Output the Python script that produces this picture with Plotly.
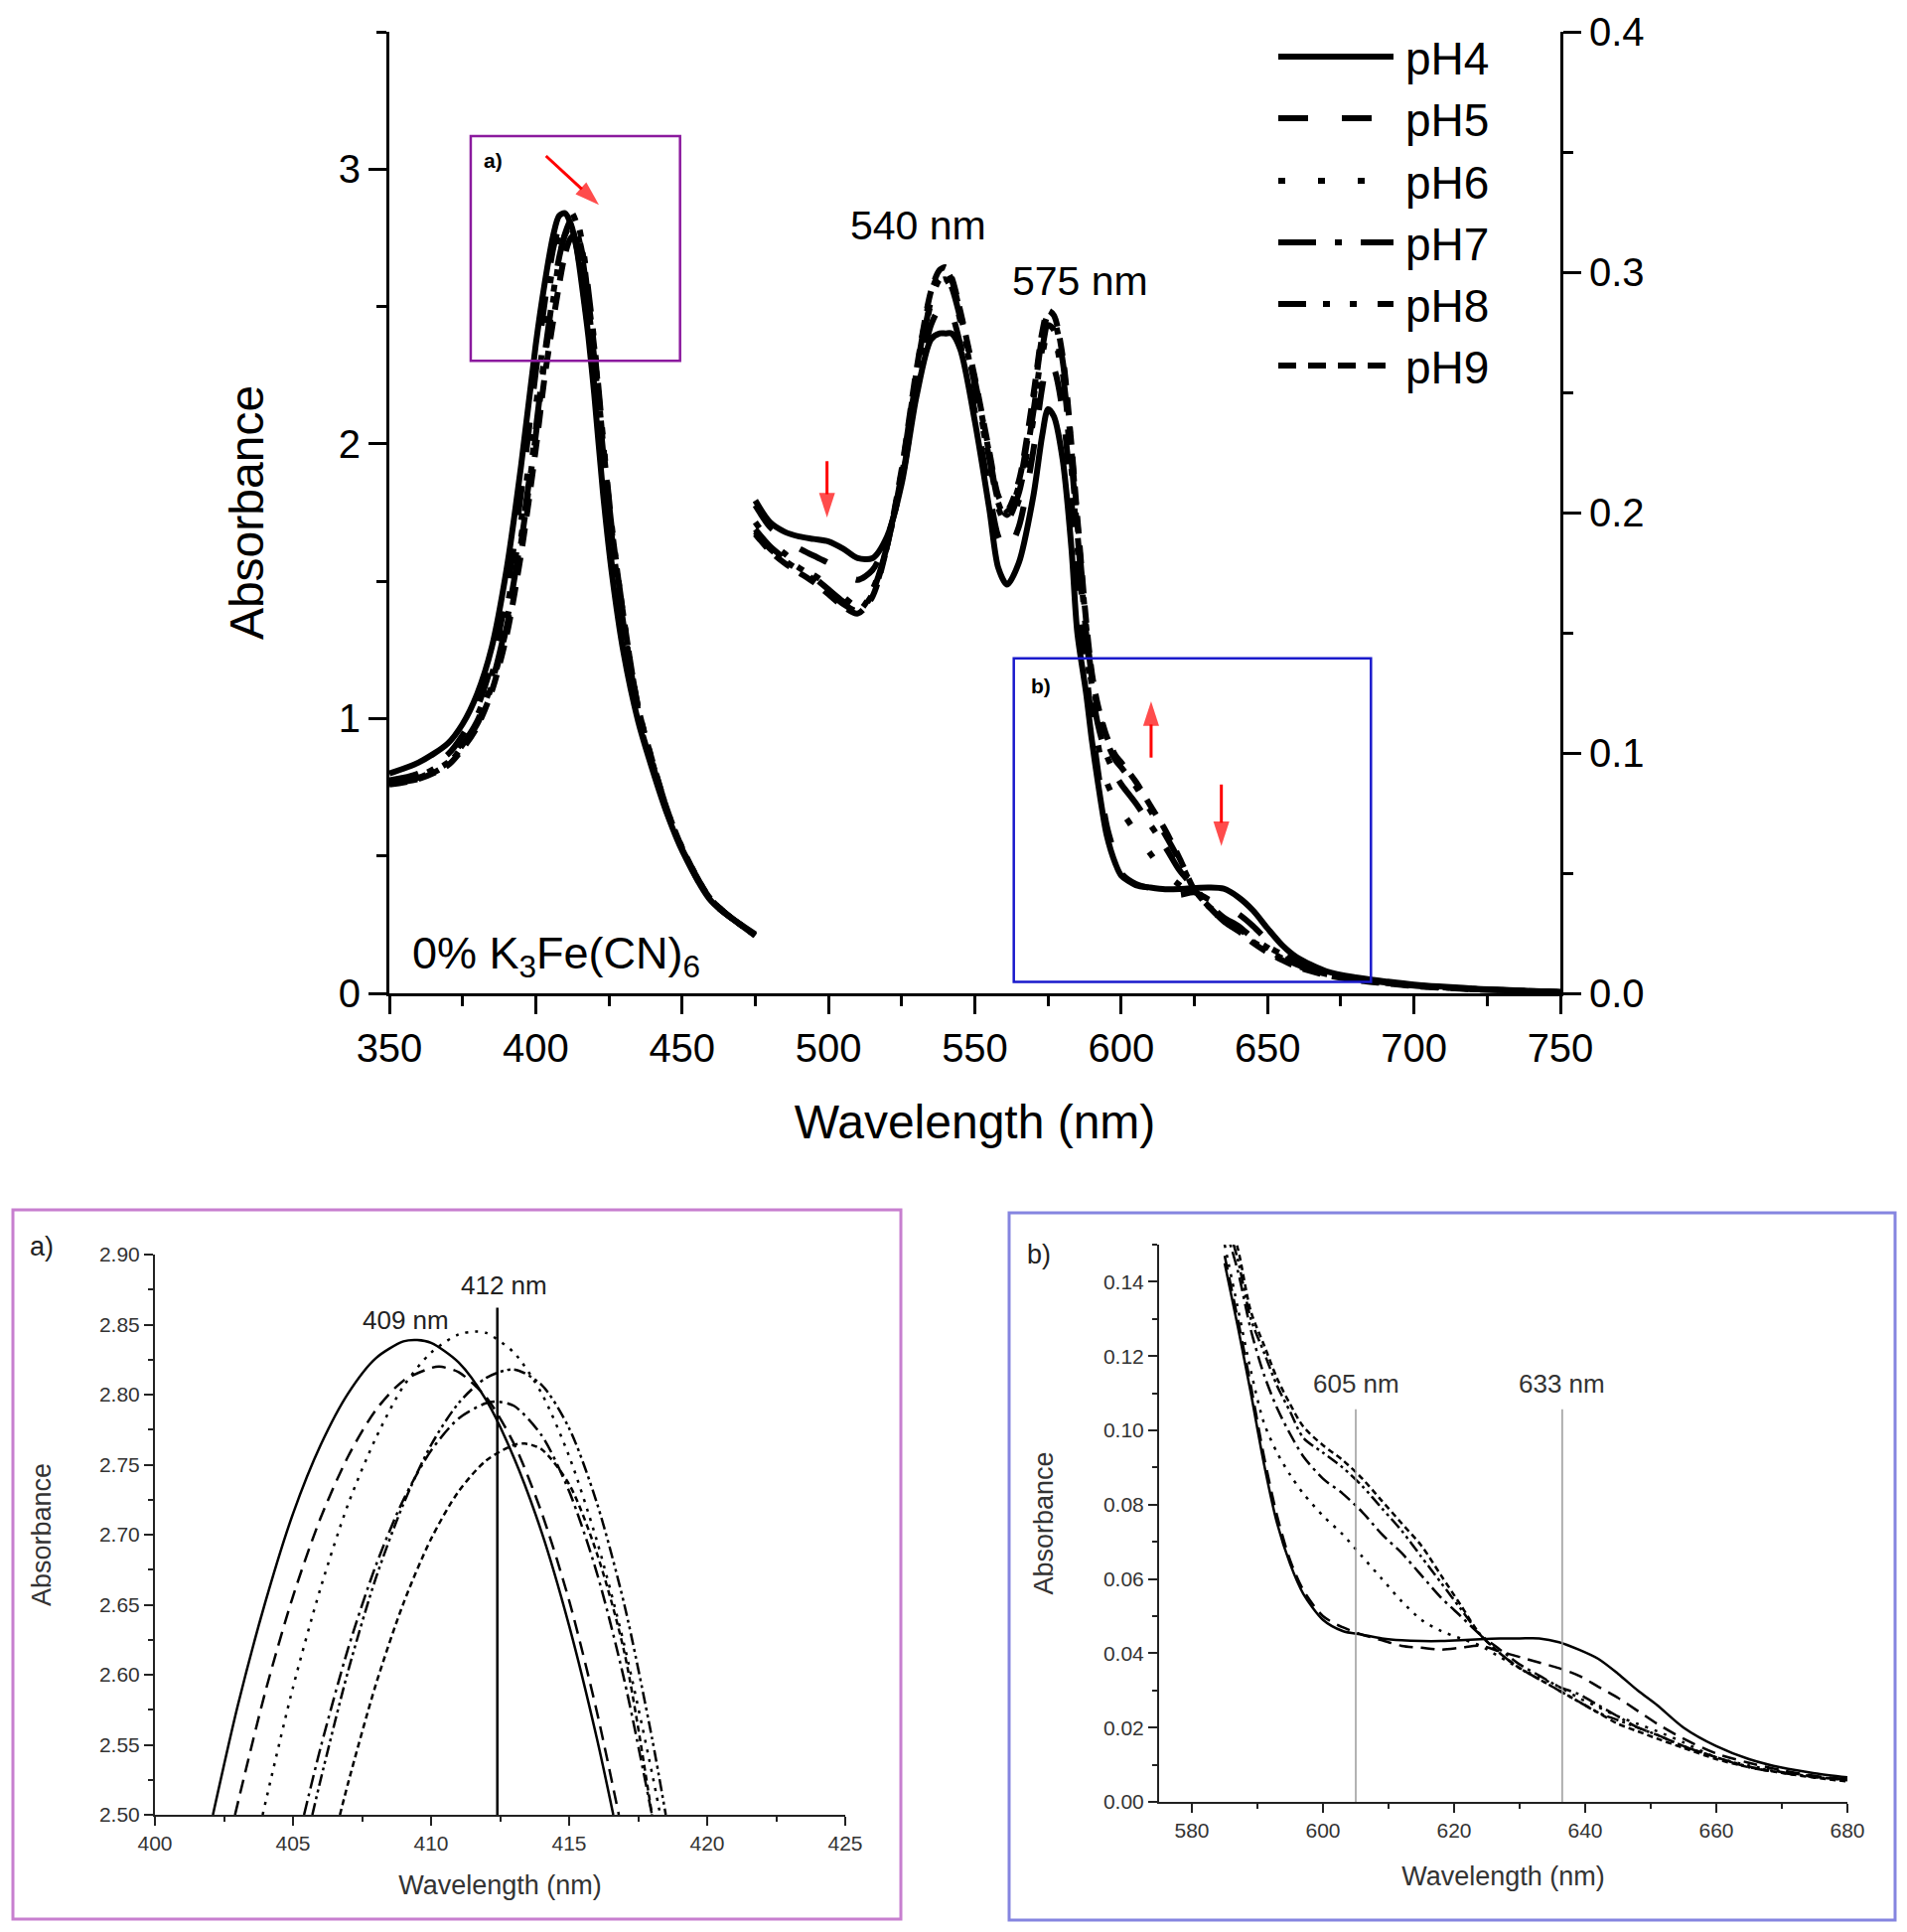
import plotly.graph_objects as go

W, H = 1920, 1945          # screenshot size
OX, OY = 8, 8              # default page (body) margin of the html page
FW, FH = W - 2 * OX, H - 2 * OY
FONT = "Liberation Sans, Arial, sans-serif"

ph_names = ["pH4", "pH5", "pH6", "pH7", "pH8", "pH9"]

# ---------------- main panel: Soret band (left axis) ----------------
soret_wl = [350, 360, 370, 375, 380, 385, 390, 395, 400, 403, 406, 408, 410, 412, 414,
            416, 418, 420, 423, 426, 430, 435, 440, 445, 450, 460, 475]
soret_pH4 = [0.80, 0.84, 0.91, 0.98, 1.09, 1.26, 1.54, 1.92, 2.36, 2.58, 2.76, 2.83, 2.84, 2.80, 2.71,
             2.56, 2.39, 2.18, 1.82, 1.53, 1.24, 0.99, 0.81, 0.65, 0.52, 0.335, 0.215]
soret_pH5 = [0.775, 0.80, 0.87, 0.94, 1.04, 1.20, 1.45, 1.82, 2.26, 2.51, 2.712, 2.789, 2.819, 2.798, 2.716,
             2.574, 2.41, 2.21, 1.86, 1.56, 1.27, 1.00, 0.82, 0.655, 0.525, 0.335, 0.215]
soret_pH6 = [0.77, 0.79, 0.85, 0.92, 1.01, 1.16, 1.39, 1.72, 2.13, 2.42, 2.662, 2.769, 2.830, 2.844, 2.801,
             2.696, 2.53, 2.34, 2.00, 1.68, 1.35, 1.035, 0.835, 0.66, 0.525, 0.34, 0.21]
soret_pH7 = [0.765, 0.785, 0.84, 0.905, 0.99, 1.13, 1.35, 1.66, 2.05, 2.32, 2.548, 2.678, 2.760, 2.794, 2.771,
             2.673, 2.50, 2.31, 1.97, 1.66, 1.34, 1.03, 0.83, 0.66, 0.525, 0.34, 0.21]
soret_pH8 = [0.765, 0.78, 0.835, 0.90, 0.98, 1.12, 1.33, 1.64, 2.03, 2.30, 2.525, 2.67, 2.764, 2.812, 2.807,
             2.723, 2.555, 2.37, 2.02, 1.70, 1.37, 1.04, 0.84, 0.665, 0.53, 0.34, 0.21]
soret_pH9 = [0.76, 0.78, 0.83, 0.89, 0.97, 1.10, 1.30, 1.60, 1.98, 2.24, 2.45, 2.58, 2.69, 2.75, 2.76,
             2.69, 2.52, 2.35, 2.00, 1.69, 1.37, 1.04, 0.84, 0.665, 0.53, 0.34, 0.21]

# ---------------- main panel: Q bands (right axis) ----------------
q_wl = [475, 480, 485, 490, 495, 500, 505, 510, 515, 520, 525, 530, 535, 538, 540, 542, 545, 550,
        555, 558, 561, 565, 570, 573, 575, 577, 580, 583, 585, 588, 590, 592, 595, 598, 600, 605,
        610, 615, 620, 625, 630, 635, 640, 645, 650, 655, 660, 670, 680, 690, 700, 720, 750]
q_pH4 = [0.205, 0.196, 0.192, 0.190, 0.189, 0.188, 0.185, 0.181, 0.181, 0.190, 0.212, 0.248, 0.272, 0.2745,
         0.2745, 0.2745, 0.268, 0.238, 0.201, 0.177, 0.170, 0.179, 0.207, 0.232, 0.243, 0.240, 0.222, 0.185,
         0.150, 0.125, 0.105, 0.088, 0.066, 0.054, 0.049, 0.045, 0.044, 0.0433, 0.0434, 0.0438, 0.044,
         0.0435, 0.040, 0.0345, 0.027, 0.020, 0.015, 0.0092, 0.0066, 0.005, 0.0036, 0.002, 0.0005]
q_pH5 = [0.203, 0.194, 0.189, 0.185, 0.182, 0.179, 0.175, 0.172, 0.176, 0.189, 0.213, 0.250, 0.278, 0.285,
         0.286, 0.283, 0.270, 0.242, 0.208, 0.190, 0.184, 0.194, 0.226, 0.252, 0.263, 0.260, 0.242, 0.205,
         0.172, 0.135, 0.112, 0.093, 0.070, 0.057, 0.050, 0.0455, 0.0437, 0.0415, 0.041, 0.042, 0.039,
         0.0365, 0.033, 0.028, 0.022, 0.017, 0.013, 0.0086, 0.006, 0.0045, 0.0033, 0.0018, 0.0005]
q_pH6 = [0.196, 0.188, 0.183, 0.178, 0.174, 0.170, 0.165, 0.161, 0.168, 0.186, 0.215, 0.255, 0.287, 0.296,
         0.297, 0.293, 0.280, 0.252, 0.221, 0.202, 0.195, 0.205, 0.239, 0.265, 0.275, 0.273, 0.255, 0.218,
         0.186, 0.145, 0.122, 0.104, 0.088, 0.080, 0.076, 0.067, 0.058, 0.050, 0.045, 0.041, 0.036,
         0.0315, 0.027, 0.023, 0.0195, 0.016, 0.012, 0.0082, 0.0058, 0.0044, 0.0032, 0.0018, 0.0005]
q_pH7 = [0.193, 0.186, 0.181, 0.177, 0.173, 0.168, 0.163, 0.159, 0.167, 0.186, 0.216, 0.256, 0.288, 0.297,
         0.298, 0.294, 0.281, 0.253, 0.222, 0.204, 0.197, 0.208, 0.242, 0.268, 0.278, 0.276, 0.258, 0.222,
         0.192, 0.150, 0.127, 0.112, 0.099, 0.091, 0.087, 0.079, 0.070, 0.061, 0.051, 0.044, 0.037,
         0.0315, 0.028, 0.023, 0.019, 0.015, 0.012, 0.0078, 0.006, 0.0045, 0.0032, 0.0018, 0.0005]
q_pH8 = [0.192, 0.185, 0.180, 0.176, 0.172, 0.167, 0.162, 0.159, 0.166, 0.186, 0.217, 0.258, 0.291, 0.300,
         0.301, 0.297, 0.283, 0.255, 0.224, 0.205, 0.199, 0.211, 0.247, 0.273, 0.282, 0.280, 0.263, 0.226,
         0.196, 0.153, 0.131, 0.118, 0.105, 0.097, 0.094, 0.086, 0.076, 0.066, 0.055, 0.043, 0.036,
         0.030, 0.026, 0.0215, 0.018, 0.0145, 0.0115, 0.008, 0.006, 0.0044, 0.0032, 0.0018, 0.0005]
q_pH9 = [0.191, 0.184, 0.179, 0.175, 0.171, 0.166, 0.161, 0.158, 0.165, 0.186, 0.218, 0.259, 0.292, 0.301,
         0.302, 0.298, 0.284, 0.256, 0.225, 0.207, 0.201, 0.213, 0.249, 0.275, 0.284, 0.282, 0.265, 0.228,
         0.198, 0.155, 0.133, 0.120, 0.107, 0.099, 0.096, 0.088, 0.078, 0.068, 0.056, 0.043, 0.036,
         0.030, 0.026, 0.021, 0.017, 0.0138, 0.011, 0.0076, 0.0055, 0.0042, 0.003, 0.0017, 0.0005]

# ---------------- inset a) Soret maximum ----------------
a_wl_pH4 = [402.1, 403, 404, 405, 406, 407, 408, 409, 409.5, 410, 411, 412, 413, 414, 415, 416, 416.6]
a_ab_pH4 = [2.50, 2.578, 2.652, 2.715, 2.764, 2.801, 2.826, 2.838, 2.839, 2.837, 2.823, 2.796, 2.755,
            2.702, 2.635, 2.555, 2.50]
a_wl_pH5 = [402.9, 404, 405, 406, 407, 408, 409, 410, 410.3, 411, 412, 413, 414, 415, 416, 416.8]
a_ab_pH5 = [2.50, 2.588, 2.656, 2.712, 2.756, 2.789, 2.810, 2.819, 2.820, 2.816, 2.798, 2.765, 2.716,
            2.653, 2.574, 2.50]
a_wl_pH6 = [403.9, 405, 406, 407, 408, 409, 410, 411, 411.6, 412, 413, 414, 415, 416, 417, 418, 418.3]
a_ab_pH6 = [2.50, 2.591, 2.662, 2.722, 2.769, 2.806, 2.830, 2.843, 2.845, 2.844, 2.830, 2.801, 2.756,
            2.696, 2.621, 2.530, 2.50]
a_wl_pH7 = [405.4, 406, 407, 408, 409, 410, 411, 412, 412.4, 413, 414, 415, 416, 417, 418]
a_ab_pH7 = [2.50, 2.548, 2.619, 2.678, 2.725, 2.760, 2.783, 2.794, 2.795, 2.792, 2.771, 2.731, 2.673,
            2.596, 2.50]
a_wl_pH8 = [405.7, 406, 407, 408, 409, 410, 411, 412, 413, 414, 415, 416, 417, 418, 418.5]
a_ab_pH8 = [2.50, 2.525, 2.603, 2.669, 2.722, 2.764, 2.794, 2.812, 2.818, 2.807, 2.776, 2.723, 2.650,
            2.555, 2.50]
a_wl_pH9 = [406.7, 407, 408, 409, 410, 411, 412, 413, 413.4, 414, 415, 416, 417, 418]
a_ab_pH9 = [2.50, 2.523, 2.593, 2.651, 2.697, 2.731, 2.753, 2.764, 2.765, 2.761, 2.736, 2.687, 2.616,
            2.50]
a_marker_wl = [412.4]
a_marker_range = [2.50, 2.862]

# ---------------- inset b) 580-680 nm ----------------
b_wl = [585, 587, 589, 591, 593, 595, 597, 600, 603, 606, 609, 612, 615, 618, 621, 624, 627, 630,
        633, 636, 639, 642, 645, 648, 651, 655, 660, 665, 670, 675, 680]
b_pH4 = [0.145, 0.128, 0.110, 0.091, 0.075, 0.064, 0.056, 0.049, 0.046, 0.045, 0.044, 0.0435, 0.0433,
         0.0433, 0.0435, 0.0438, 0.044, 0.044, 0.044, 0.043, 0.041, 0.0385, 0.0345, 0.030, 0.026, 0.020,
         0.015, 0.0115, 0.0092, 0.0077, 0.0066]
b_pH5 = [0.147, 0.130, 0.112, 0.093, 0.077, 0.065, 0.057, 0.050, 0.047, 0.045, 0.0435, 0.042, 0.0415,
         0.041, 0.0415, 0.042, 0.0405, 0.039, 0.0375, 0.036, 0.034, 0.031, 0.028, 0.0245, 0.021, 0.017,
         0.013, 0.0105, 0.0085, 0.007, 0.006]
b_pH6 = [0.150, 0.133, 0.116, 0.102, 0.094, 0.088, 0.083, 0.077, 0.072, 0.066, 0.060, 0.054, 0.049,
         0.046, 0.044, 0.042, 0.039, 0.036, 0.0335, 0.031, 0.028, 0.0255, 0.023, 0.021, 0.019, 0.016,
         0.012, 0.0098, 0.0082, 0.0068, 0.0058]
b_pH7 = [0.155, 0.143, 0.127, 0.115, 0.106, 0.099, 0.093, 0.087, 0.083, 0.078, 0.072, 0.067, 0.061,
         0.055, 0.050, 0.045, 0.041, 0.037, 0.034, 0.031, 0.029, 0.026, 0.023, 0.020, 0.018, 0.015,
         0.012, 0.0093, 0.0078, 0.0067, 0.006]
b_pH8 = [0.158, 0.146, 0.130, 0.121, 0.112, 0.105, 0.098, 0.094, 0.090, 0.085, 0.079, 0.073, 0.066,
         0.059, 0.052, 0.045, 0.040, 0.036, 0.033, 0.030, 0.027, 0.024, 0.022, 0.020, 0.018, 0.015,
         0.012, 0.0095, 0.008, 0.0067, 0.006]
b_pH9 = [0.160, 0.149, 0.132, 0.123, 0.114, 0.107, 0.101, 0.096, 0.092, 0.087, 0.081, 0.075, 0.069,
         0.061, 0.053, 0.045, 0.040, 0.036, 0.033, 0.030, 0.027, 0.024, 0.021, 0.019, 0.017, 0.0145,
         0.0115, 0.0093, 0.0078, 0.0065, 0.0055]
b_marker_wl = [605, 636.5]
b_marker_labels = ["605 nm", "633 nm"]
b_marker_top = 0.1057

# zoom boxes drawn on the main panel (wavelength, absorbance on left axis)
box_a = [377.8, 449.3, 2.302, 3.12]
box_b = [563.3, 685.3, 0.042, 1.219]

# red trend arrows on the main panel: tail -> tip
arrow_tail_wl = [403.5, 499.5, 610.2, 634.2]
arrow_tail_ab = [3.048, 1.937, 0.858, 0.760]
arrow_tip_wl = [421.6, 499.5, 610.2, 634.2]
arrow_tip_ab = [2.870, 1.732, 1.063, 0.536]

# ---------------- styles ----------------
dash_main = ["solid", "30px,34px", "7px,33px", "38px,19px,7px,19px",
             "28px,17px,7px,20px,7px,21px", "18px,12px"]
dash_inset = ["solid", "14px,8px", "3px,7px", "14px,5px,3px,5px",
              "12px,4px,3px,4px,3px,4px", "6px,4px"]


def px(x):
    return (x - OX) / FW


def py(y):
    return 1 - (y - OY) / FH


fig = go.Figure()

soret_sets = [soret_pH4, soret_pH5, soret_pH6, soret_pH7, soret_pH8, soret_pH9]
q_sets = [q_pH4, q_pH5, q_pH6, q_pH7, q_pH8, q_pH9]
a_sets = [(a_wl_pH4, a_ab_pH4), (a_wl_pH5, a_ab_pH5), (a_wl_pH6, a_ab_pH6),
          (a_wl_pH7, a_ab_pH7), (a_wl_pH8, a_ab_pH8), (a_wl_pH9, a_ab_pH9)]
b_sets = [b_pH4, b_pH5, b_pH6, b_pH7, b_pH8, b_pH9]

for i, name in enumerate(ph_names):
    fig.add_trace(go.Scatter(x=soret_wl, y=soret_sets[i], mode="lines", name=name,
                             line=dict(color="black", width=6, dash=dash_main[i], shape="spline", smoothing=0.8),
                             xaxis="x", yaxis="y", showlegend=False))
    fig.add_trace(go.Scatter(x=q_wl, y=q_sets[i], mode="lines", name=name,
                             line=dict(color="black", width=6, dash=dash_main[i], shape="spline", smoothing=0.8),
                             xaxis="x", yaxis="y2", showlegend=False))
    fig.add_trace(go.Scatter(x=a_sets[i][0], y=a_sets[i][1], mode="lines", name=name,
                             line=dict(color="black", width=2.5, dash=dash_inset[i], shape="spline", smoothing=0.8),
                             xaxis="x2", yaxis="y3", showlegend=False))
    fig.add_trace(go.Scatter(x=b_wl, y=b_sets[i], mode="lines", name=name,
                             line=dict(color="black", width=2.5, dash=dash_inset[i], shape="spline", smoothing=0.8),
                             xaxis="x3", yaxis="y4", showlegend=False))

# red arrows as line + oriented arrow marker (tip sits on the end point)
for tx, ty, hx, hy in zip(arrow_tail_wl, arrow_tail_ab, arrow_tip_wl, arrow_tip_ab):
    fig.add_trace(go.Scatter(x=[tx, hx], y=[ty, hy], mode="lines+markers", showlegend=False,
                             hoverinfo="skip", xaxis="x", yaxis="y",
                             line=dict(color="#FF0000", width=3),
                             marker=dict(symbol="arrow", angleref="previous", size=[0, 26],
                                         color="#FF0000", line=dict(width=0))))

main_font = dict(family=FONT, size=40, color="black")
inset_tick_font = dict(family=FONT, size=21, color="#333333")
inset_title_font = dict(family=FONT, size=27, color="#333333")

main_x_dom = [px(392), px(1571)]
main_y_dom = [py(1000), py(32)]

fig.update_layout(
    width=FW, height=FH, autosize=False,
    margin=dict(l=0, r=0, t=0, b=0, pad=0),
    paper_bgcolor="white", plot_bgcolor="white",
    font=dict(family=FONT, color="black"),
    xaxis=dict(domain=main_x_dom, anchor="y", range=[350, 750], tick0=350, dtick=50, automargin=False,
               ticklabeloverflow="allow",
               showgrid=False, zeroline=False, showline=True, linecolor="black", linewidth=3,
               ticks="outside", ticklen=18, tickwidth=3, tickcolor="black", tickfont=main_font,
               minor=dict(dtick=25, tick0=350, ticks="outside", ticklen=10, tickwidth=3, tickcolor="black"),
               title=dict(text="Wavelength (nm)", font=dict(family=FONT, size=48, color="black"), standoff=37)),
    yaxis=dict(domain=main_y_dom, anchor="x", range=[0, 3.5], tick0=0, dtick=1, automargin=False,
               ticklabeloverflow="allow",
               showgrid=False, zeroline=False, showline=True, linecolor="black", linewidth=3,
               ticks="outside", ticklen=18, tickwidth=3, tickcolor="black", tickfont=main_font,
               minor=dict(dtick=0.5, tick0=0, ticks="outside", ticklen=10, tickwidth=3, tickcolor="black"),
               title=dict(text="Absorbance", font=dict(family=FONT, size=48, color="black"), standoff=60)),
    yaxis2=dict(overlaying="y", anchor="x", side="right", range=[0, 0.4], tick0=0, dtick=0.1, automargin=False,
                ticklabeloverflow="allow",
                tickformat=".1f", showgrid=False, zeroline=False, showline=True, linecolor="black",
                linewidth=3, ticks="outside", ticklen=18, tickwidth=3, tickcolor="black", tickfont=main_font,
                minor=dict(dtick=0.05, tick0=0, ticks="outside", ticklen=10, tickwidth=3, tickcolor="black")),
    xaxis2=dict(domain=[px(156), px(851)], anchor="y3", range=[400, 425], tick0=400, dtick=5, automargin=False,
                ticklabeloverflow="allow",
                showgrid=False, zeroline=False, showline=True, linecolor="#222222", linewidth=2,
                ticks="outside", ticklen=9, tickwidth=1.5, tickcolor="#222222", tickfont=inset_tick_font,
                minor=dict(dtick=2.5, tick0=400, ticks="outside", ticklen=5, tickwidth=1.5, tickcolor="#222222"),
                title=dict(text="Wavelength (nm)", font=inset_title_font, standoff=22)),
    yaxis3=dict(domain=[py(1827), py(1263)], anchor="x2", range=[2.5, 2.9], tick0=2.5, dtick=0.05,
                automargin=False, ticklabeloverflow="allow",
                tickformat=".2f", showgrid=False, zeroline=False, showline=True, linecolor="#222222",
                linewidth=2, ticks="outside", ticklen=9, tickwidth=1.5, tickcolor="#222222",
                tickfont=inset_tick_font,
                minor=dict(dtick=0.025, tick0=2.5, ticks="outside", ticklen=5, tickwidth=1.5, tickcolor="#222222"),
                title=dict(text="Absorbance", font=inset_title_font, standoff=40)),
    xaxis3=dict(domain=[px(1167), px(1860)], anchor="y4", range=[575, 680], tick0=580, dtick=20, automargin=False,
                ticklabeloverflow="allow",
                showgrid=False, zeroline=False, showline=True, linecolor="#222222", linewidth=2,
                ticks="outside", ticklen=9, tickwidth=1.5, tickcolor="#222222", tickfont=inset_tick_font,
                minor=dict(dtick=10, tick0=580, ticks="outside", ticklen=5, tickwidth=1.5, tickcolor="#222222"),
                title=dict(text="Wavelength (nm)", font=inset_title_font, standoff=26)),
    yaxis4=dict(domain=[py(1814), py(1253)], anchor="x3", range=[0, 0.15], tick0=0, dtick=0.02,
                automargin=False, ticklabeloverflow="allow",
                tickformat=".2f", showgrid=False, zeroline=False, showline=True, linecolor="#222222",
                linewidth=2, ticks="outside", ticklen=9, tickwidth=1.5, tickcolor="#222222",
                tickfont=inset_tick_font,
                minor=dict(dtick=0.01, tick0=0, ticks="outside", ticklen=5, tickwidth=1.5, tickcolor="#222222"),
                title=dict(text="Absorbance", font=inset_title_font, standoff=42)),
)

shapes = []
shapes.append(dict(type="rect", xref="x", yref="y", x0=box_a[0], x1=box_a[1], y0=box_a[2], y1=box_a[3],
                   line=dict(color="#8B1A9E", width=2.5)))
shapes.append(dict(type="rect", xref="x", yref="y", x0=box_b[0], x1=box_b[1], y0=box_b[2], y1=box_b[3],
                   line=dict(color="#1A1ACC", width=2.5)))
shapes.append(dict(type="rect", xref="paper", yref="paper", x0=px(13), x1=px(907), y0=py(1932), y1=py(1218),
                   line=dict(color="#C77FCF", width=3)))
shapes.append(dict(type="rect", xref="paper", yref="paper", x0=px(1016), x1=px(1908), y0=py(1933), y1=py(1221),
                   line=dict(color="#8585E0", width=3)))
for xv in a_marker_wl:
    shapes.append(dict(type="line", xref="x2", yref="y3", x0=xv, x1=xv, y0=a_marker_range[0], y1=a_marker_range[1],
                       line=dict(color="black", width=2.5)))
for xv in b_marker_wl:
    shapes.append(dict(type="line", xref="x3", yref="y4", x0=xv, x1=xv, y0=0, y1=b_marker_top,
                       line=dict(color="#9A9A9A", width=1.5)))
legend_rows = [57, 119, 182, 244, 306, 368]
for i, name in enumerate(ph_names):
    shapes.append(dict(type="line", xref="paper", yref="paper", x0=px(1287), x1=px(1403),
                       y0=py(legend_rows[i]), y1=py(legend_rows[i]),
                       line=dict(color="black", width=6, dash=dash_main[i])))

annotations = []
for i, name in enumerate(ph_names):
    annotations.append(dict(xref="paper", yref="paper", x=px(1413), y=py(legend_rows[i] + 2), text=name,
                            showarrow=False, xanchor="left", yanchor="middle",
                            font=dict(family=FONT, size=46, color="black")))

annotations.append(dict(xref="x", yref="y", x=530.6, y=2.795, text="540 nm", showarrow=False,
                        xanchor="center", yanchor="middle",
                        font=dict(family=FONT, size=41, color="black")))
annotations.append(dict(xref="x", yref="y", x=585.8, y=2.593, text="575 nm", showarrow=False,
                        xanchor="center", yanchor="middle",
                        font=dict(family=FONT, size=41, color="black")))
annotations.append(dict(xref="x", yref="y", x=357.0, y=0.135, text="0% K<sub>3</sub>Fe(CN)<sub>6</sub>",
                        showarrow=False, xanchor="left", yanchor="middle",
                        font=dict(family=FONT, size=45, color="black")))
annotations.append(dict(xref="x", yref="y", x=385.5, y=3.03, text="<b>a)</b>", showarrow=False,
                        xanchor="center", yanchor="middle",
                        font=dict(family=FONT, size=21, color="black")))
annotations.append(dict(xref="x", yref="y", x=572.4, y=1.119, text="<b>b)</b>", showarrow=False,
                        xanchor="center", yanchor="middle",
                        font=dict(family=FONT, size=21, color="black")))

annotations.append(dict(xref="paper", yref="paper", x=px(42), y=py(1255), text="a)", showarrow=False,
                        xanchor="center", yanchor="middle",
                        font=dict(family=FONT, size=27, color="#222222")))
annotations.append(dict(xref="paper", yref="paper", x=px(1046), y=py(1263), text="b)", showarrow=False,
                        xanchor="center", yanchor="middle",
                        font=dict(family=FONT, size=27, color="#222222")))
annotations.append(dict(xref="x2", yref="y3", x=412.65, y=2.878, text="412 nm", showarrow=False,
                        xanchor="center", yanchor="middle",
                        font=dict(family=FONT, size=26, color="#222222")))
annotations.append(dict(xref="x2", yref="y3", x=409.1, y=2.853, text="409 nm", showarrow=False,
                        xanchor="center", yanchor="middle",
                        font=dict(family=FONT, size=26, color="#222222")))
for xv, lab in zip(b_marker_wl, b_marker_labels):
    annotations.append(dict(xref="x3", yref="y4", x=xv, y=0.1125, text=lab, showarrow=False,
                            xanchor="center", yanchor="middle",
                            font=dict(family=FONT, size=26, color="#333333")))

fig.update_layout(shapes=shapes, annotations=annotations)

fig.write_html("out.html")
